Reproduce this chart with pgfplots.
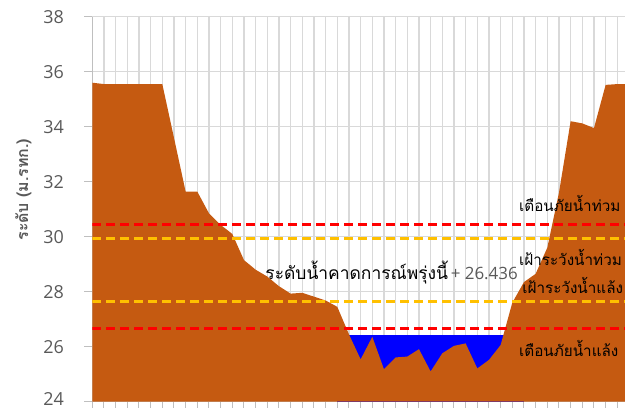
\documentclass[border=0pt]{standalone}
\usepackage{pgfplots}
\pgfplotsset{compat=1.18}
\usepackage{fontspec}
\setmainfont{Open Sans}
\newfontfamily\thaifont[Script=Thai]{Loma}
\definecolor{terrain}{HTML}{C55A11}
\definecolor{water}{HTML}{0000FF}
\definecolor{warnred}{HTML}{FF0000}
\definecolor{watchyel}{HTML}{FFC000}
\definecolor{gridgray}{HTML}{D9D9D9}
\definecolor{axisgray}{HTML}{BFBFBF}
\definecolor{labelgray}{HTML}{595959}
\begin{document}
\begin{tikzpicture}
\begin{axis}[
  scale only axis, width=560bp, height=385bp,
  xmin=0, xmax=48, ymin=24, ymax=38,
  xtick={0,1,...,48}, xticklabels={},
  ytick={24,26,...,38},
  yticklabels={\raisebox{6bp}{24},26,28,30,32,34,36,38},
  grid=major, grid style={draw=gridgray, line width=1.2bp},
  axis x line*=bottom, axis y line*=left,
  axis line style={draw=axisgray, line width=1bp},
  tick align=outside, major tick length=8bp,
  tick style={draw=axisgray, line width=1bp},
  /pgf/number format/assume math mode=true,
  yticklabel style={font=\fontsize{18}{18}\selectfont, text=labelgray, xshift=-17bp},
]
\coordinate (O) at (axis cs:0,24);
\addplot[fill=water, draw=none] coordinates {(21,26.436) (37,26.436)} \closedcycle;
\addplot[fill=terrain, draw=none] coordinates {
(0,35.60) (1,35.55) (2,35.55) (3,35.55) (4,35.55) (5,35.55) (6,35.55)
(7,33.60) (8,31.64) (9,31.64) (10,30.85) (11,30.43) (12,30.10) (13,29.15)
(14,28.80) (15,28.55) (16,28.20) (17,27.93) (18,27.96) (19,27.82) (20,27.68)
(21,27.45) (22,26.45) (23,25.54) (24,26.36) (25,25.18) (26,25.61) (27,25.64)
(28,25.91) (29,25.10) (30,25.76) (31,26.03) (32,26.12) (33,25.21) (34,25.52)
(35,26.06) (36,27.60) (37,28.35) (38,28.65) (39,29.60) (40,31.60) (41,34.20)
(42,34.12) (43,33.95) (44,35.52) (45,35.55) (46,35.55) (47,35.55) (48,35.55)
} \closedcycle;
\addplot[draw=warnred, line width=3bp, dash pattern=on 9bp off 5bp] coordinates {(0,30.43) (48,30.43)};
\addplot[draw=watchyel, line width=3bp, dash pattern=on 9bp off 5bp] coordinates {(0,29.94) (48,29.94)};
\addplot[draw=watchyel, line width=3bp, dash pattern=on 9bp off 5bp] coordinates {(0,27.64) (48,27.64)};
\addplot[draw=warnred, line width=3bp, dash pattern=on 9bp off 5bp] coordinates {(0,26.67) (48,26.67)};
\node[anchor=base west, inner sep=0pt, font=\thaifont\fontsize{15.3}{15.3}\selectfont] at (axis cs:36.57,30.90) {เตือนภัยน้ำท่วม};
\node[anchor=base west, inner sep=0pt, font=\thaifont\fontsize{15.3}{15.3}\selectfont] at (axis cs:36.57,28.97) {เฝ้าระวังน้ำท่วม};
\node[anchor=base west, inner sep=0pt, font=\thaifont\fontsize{15.3}{15.3}\selectfont] at (axis cs:36.85,27.95) {เฝ้าระวังน้ำแล้ง};
\node[anchor=base west, inner sep=0pt, font=\thaifont\fontsize{15.3}{15.3}\selectfont] at (axis cs:36.57,25.63) {เตือนภัยน้ำแล้ง};
\node[anchor=base west, inner sep=0pt] at (axis cs:14.82,28.46) {{\thaifont\fontsize{17.5}{17.5}\selectfont ระดับน้ำคาดการณ์พรุ่งนี้} {\fontsize{17}{17}\selectfont\color{labelgray}+ 26.436}};
\end{axis}
\node[rotate=90, inner sep=0pt, text=labelgray, font=\thaifont\bfseries\fontsize{16}{16}\selectfont] at ([shift={(-69bp,212bp)}]O) {ระดับ (ม.รทก.)};
\pgfresetboundingbox
\path[use as bounding box] ([shift={(-92.3bp,-6.3bp)}]O) rectangle ++(625bp,408bp);
\end{tikzpicture}
\end{document}
